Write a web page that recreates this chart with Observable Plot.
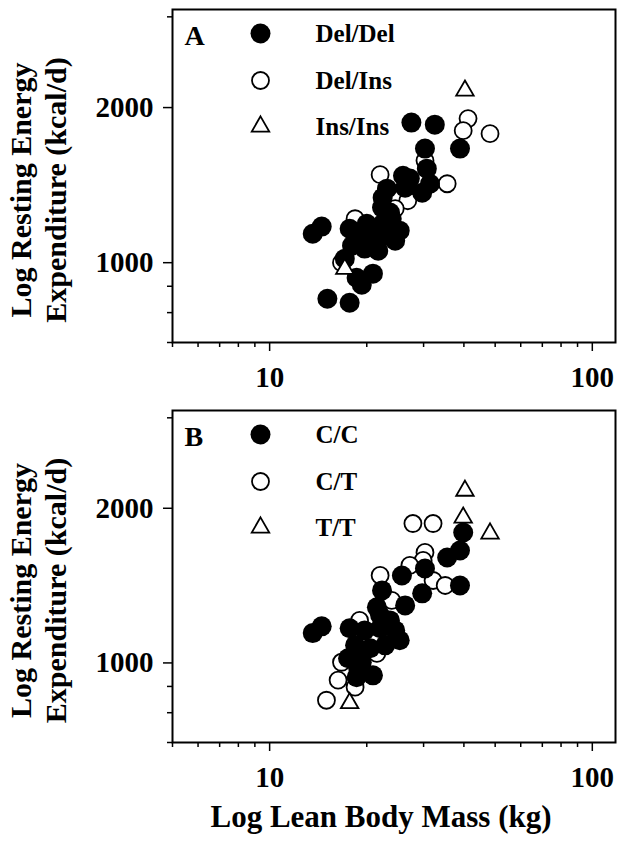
<!DOCTYPE html>
<html><head><meta charset="utf-8">
<script src="https://cdn.jsdelivr.net/npm/d3@7"></script>
<script src="https://cdn.jsdelivr.net/npm/@observablehq/plot@0.6"></script>
<style>
body{margin:0;background:#fff;}
#chart{width:621px;}
#chart svg{display:block;}
</style></head><body><div id="chart"></div>
<script>
// ---- data (lean body mass kg, resting energy expenditure kcal/d) ----
const panelLetters = ["A", "B"];
const legendA = ["Del/Del", "Del/Ins", "Ins/Ins"];
const legendB = ["C/C", "C/T", "T/T"];

const aDelDelLBM = [13.6,14.5,15.1,17.7,18.6,20.9,19.3,27.5,32.5,38.9,30.3,30.7,25.9,31.4,23.1,26.3,29.7,22.4,22.3,23.6,20.0,22.4,17.7,19.0,20.7,22.8,24.5,18.0,19.7,21.7,25.3,17.1,23.9,27.2];
const aDelDelREE = [1138,1175,851,836,935,952,906,1870,1853,1665,1665,1522,1475,1423,1392,1398,1367,1337,1279,1251,1190,1190,1164,1144,1123,1128,1103,1079,1065,1055,1154,1018,1217,1456];
const aDelInsLBM = [41.2,39.8,48.2,30.3,22.0,35.5,26.8,18.8,16.7,18.4,24.5,21.2];
const aDelInsREE = [1904,1804,1780,1578,1482,1423,1319,1190,1000,1217,1273,1154];
const aInsInsLBM = [40.3,17.1];
const aInsInsREE = [2158,973];

const bCCLBM = [13.6,14.5,18.6,20.9,39.8,38.9,35.5,30.3,25.7,38.9,29.7,22.3,21.5,26.3,17.7,19.7,22.0,24.5,18.4,20.5,22.8,25.3,17.5,19.3,22.0,23.6,18.8];
const bCCREE = [1143,1178,938,946,1794,1655,1604,1527,1480,1415,1366,1384,1283,1294,1168,1157,1168,1157,1082,1068,1082,1107,1021,1003,1238,1210,977];
const bCTLBM = [27.8,32.1,30.3,29.9,27.2,22.0,32.1,35.0,16.7,16.3,18.4,15.0,21.5,19.0,23.9];
const bCTREE = [1868,1868,1641,1583,1548,1480,1447,1415,1003,926,897,846,1044,1210,1324];
const bTTLBM = [40.3,39.8,48.2,17.7];
const bTTREE = [2164,1918,1786,835];

const xMajorTicks = [10, 100];
const xMinorTicks = [5,6,7,8,9,20,30,40,50,60,70,80,90];
const yMajorTicks = [1000, 2000];
const yMinorTicks = [700, 800, 900, 3000];
const yTitleLines = ["Log Resting Energy", "Expenditure (kcal/d)"];
const xTitle = "Log Lean Body Mass (kg)";

// ---- styling ----
const FONT = "'Liberation Serif', 'Times New Roman', serif";
const pts = (xs, ys) => xs.map((x, i) => ({lbm: x, ree: ys[i]}));

function panel({letter, labels, filled, open, tri, height, marginTop, marginBottom, withXTitle}) {
  const legendDy = [24, 71, 117];
  const marks = [
    Plot.dot(pts(...open), {x: "lbm", y: "ree", r: 8.5, fill: "white", stroke: "black", strokeWidth: 1.8}),
    Plot.dot(pts(...filled), {x: "lbm", y: "ree", r: 10, fill: "black"}),
    Plot.dot(pts(...tri), {x: "lbm", y: "ree", r: 6.5, symbol: "triangle", fill: "white", stroke: "black", strokeWidth: 1.8}),
    Plot.frame({stroke: "black", strokeWidth: 2}),
    Plot.axisX({ticks: xMinorTicks, tickSize: 5, strokeWidth: 1.5, tickFormat: () => "", label: null}),
    Plot.axisX({ticks: xMajorTicks, tickSize: 9, strokeWidth: 1.5, tickPadding: 15, tickFormat: d => String(d), label: null, fontSize: 29, fontWeight: "bold"}),
    Plot.axisY({ticks: yMinorTicks, tickSize: 5, strokeWidth: 1.5, tickFormat: () => "", label: null}),
    Plot.axisY({ticks: yMajorTicks, tickSize: 9, strokeWidth: 1.5, tickPadding: 10, tickFormat: d => String(d), label: null, fontSize: 29, fontWeight: "bold"}),
    Plot.text([letter], {text: d => d, frameAnchor: "top-left", dx: 12, dy: 27, textAnchor: "start", lineAnchor: "middle", fontSize: 28, fontWeight: "bold"}),
    // legend symbols
    Plot.dot([0], {frameAnchor: "top-left", dx: 88, dy: legendDy[0], r: 10, fill: "black"}),
    Plot.dot([0], {frameAnchor: "top-left", dx: 88, dy: legendDy[1], r: 8.5, fill: "white", stroke: "black", strokeWidth: 1.8}),
    Plot.dot([0], {frameAnchor: "top-left", dx: 88, dy: legendDy[2], r: 6.5, symbol: "triangle", fill: "white", stroke: "black", strokeWidth: 1.8}),
    ...labels.map((lab, i) => Plot.text([lab], {text: d => d, frameAnchor: "top-left", dx: 143, dy: legendDy[i], textAnchor: "start", lineAnchor: "middle", fontSize: 25, fontWeight: "bold"})),
    // y title (two lines, rotated)
    Plot.text([yTitleLines[0]], {text: d => d, frameAnchor: "left", dx: -151, dy: 14, rotate: -90, textAnchor: "middle", lineAnchor: "middle", fontSize: 30, fontWeight: "bold"}),
    Plot.text([yTitleLines[1]], {text: d => d, frameAnchor: "left", dx: -116, dy: 14, rotate: -90, textAnchor: "middle", lineAnchor: "middle", fontSize: 30, fontWeight: "bold"})
  ];
  if (withXTitle) {
    marks.push(Plot.text([xTitle], {text: d => d, frameAnchor: "bottom", dx: -13, dy: 75, textAnchor: "middle", lineAnchor: "middle", fontSize: 31, fontWeight: "bold"}));
  }
  return Plot.plot({
    width: 621,
    height,
    marginLeft: 172,
    marginRight: 6,
    marginTop,
    marginBottom,
    style: {fontFamily: FONT, fontSize: "29px", fontWeight: "bold", color: "black", background: "white", overflow: "visible"},
    x: {type: "log", domain: [5, 118], label: null},
    y: {type: "log", domain: [700, 3100], label: null},
    marks
  });
}

const chart = document.getElementById("chart");
chart.append(panel({
  letter: panelLetters[0], labels: legendA,
  filled: [aDelDelLBM, aDelDelREE], open: [aDelInsLBM, aDelInsREE], tri: [aInsInsLBM, aInsInsREE],
  height: 400, marginTop: 9, marginBottom: 58, withXTitle: false
}));
chart.append(panel({
  letter: panelLetters[1], labels: legendB,
  filled: [bCCLBM, bCCREE], open: [bCTLBM, bCTREE], tri: [bTTLBM, bTTREE],
  height: 444, marginTop: 10, marginBottom: 102, withXTitle: true
}));
</script></body></html>
